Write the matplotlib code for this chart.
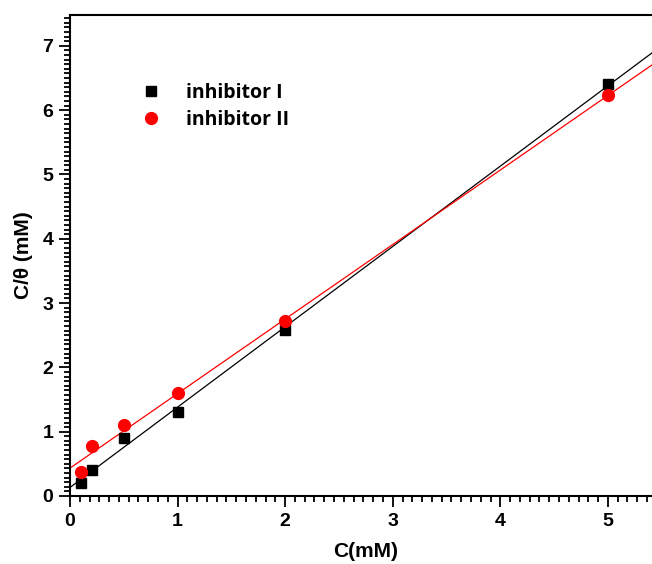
"""
Langmuir-type plot of C/theta vs C for two inhibitors, with linear fits.
"""
import matplotlib
matplotlib.use("Agg")
import matplotlib.pyplot as plt
import numpy as np
from matplotlib.ticker import MultipleLocator, AutoMinorLocator

# ── Data ──────────────────────────────────────────────────────────────────────

conc = [0.1, 0.2, 0.5, 1.0, 2.0, 5.0]
inhib_1 = [0.20, 0.40, 0.90, 1.31, 2.58, 6.40]
inhib_2 = [0.38, 0.77, 1.10, 1.60, 2.72, 6.23]

labels = ["inhibitor I", "inhibitor II"]
colors = ["black", "red"]
markers = ["s", "o"]

# ── Plot ──────────────────────────────────────────────────────────────────────

plt.rcParams["font.family"] = ["Liberation Sans", "DejaVu Sans"]
plt.rcParams["font.weight"] = "bold"

fig = plt.figure(figsize=(6.52, 5.64), dpi=100)
ax = fig.add_axes([70 / 652, 68 / 564, 1 - 70 / 652, 481 / 564])

x_fit = np.array([0.0, 5.8])
for ys, col, mk, lab in zip([inhib_1, inhib_2], colors, markers, labels):
    slope, icpt = np.polyfit(conc, ys, 1)
    ax.plot(x_fit, icpt + slope * x_fit, color=col, lw=0.9, zorder=2)
    ax.plot(conc, ys, linestyle="none", marker=mk, color=col,
            markersize=7.5 if mk == "s" else 8.5, label=lab, zorder=3)

ax.set_xlim(0, 5.41)
ax.set_ylim(0, 7.48)

ax.xaxis.set_major_locator(MultipleLocator(1))
ax.yaxis.set_major_locator(MultipleLocator(1))
ax.xaxis.set_minor_locator(AutoMinorLocator(11))
ax.yaxis.set_minor_locator(AutoMinorLocator(14))

ax.spines["right"].set_visible(False)
for s in ["left", "bottom", "top"]:
    ax.spines[s].set_linewidth(1.5)

ax.tick_params(which="both", direction="out", top=False, right=False,
               width=1.3, labelsize=14)
ax.tick_params(which="major", length=8, pad=4)
ax.tick_params(which="minor", length=4.5)
for t in ax.get_xticklabels() + ax.get_yticklabels():
    t.set_fontweight("bold")

ax.set_xlabel("C(mM)", fontsize=15, fontweight="bold")
ax.xaxis.set_label_coords((366 - 70) / 582, -46 / 481)
ax.set_ylabel("C/θ (mM)", fontsize=15, fontweight="bold")
ax.yaxis.set_label_coords(-37 / 582, 0.5)

leg = ax.legend(loc="upper left", bbox_to_anchor=((141 - 70) / 582, 1 - 68 / 481),
                frameon=False, borderpad=0, borderaxespad=0,
                handlelength=1.0, handletextpad=1.3, labelspacing=0.35,
                prop={"family": "Open Sans", "weight": "bold", "size": 14})

fig.savefig("out.png", dpi=100)
